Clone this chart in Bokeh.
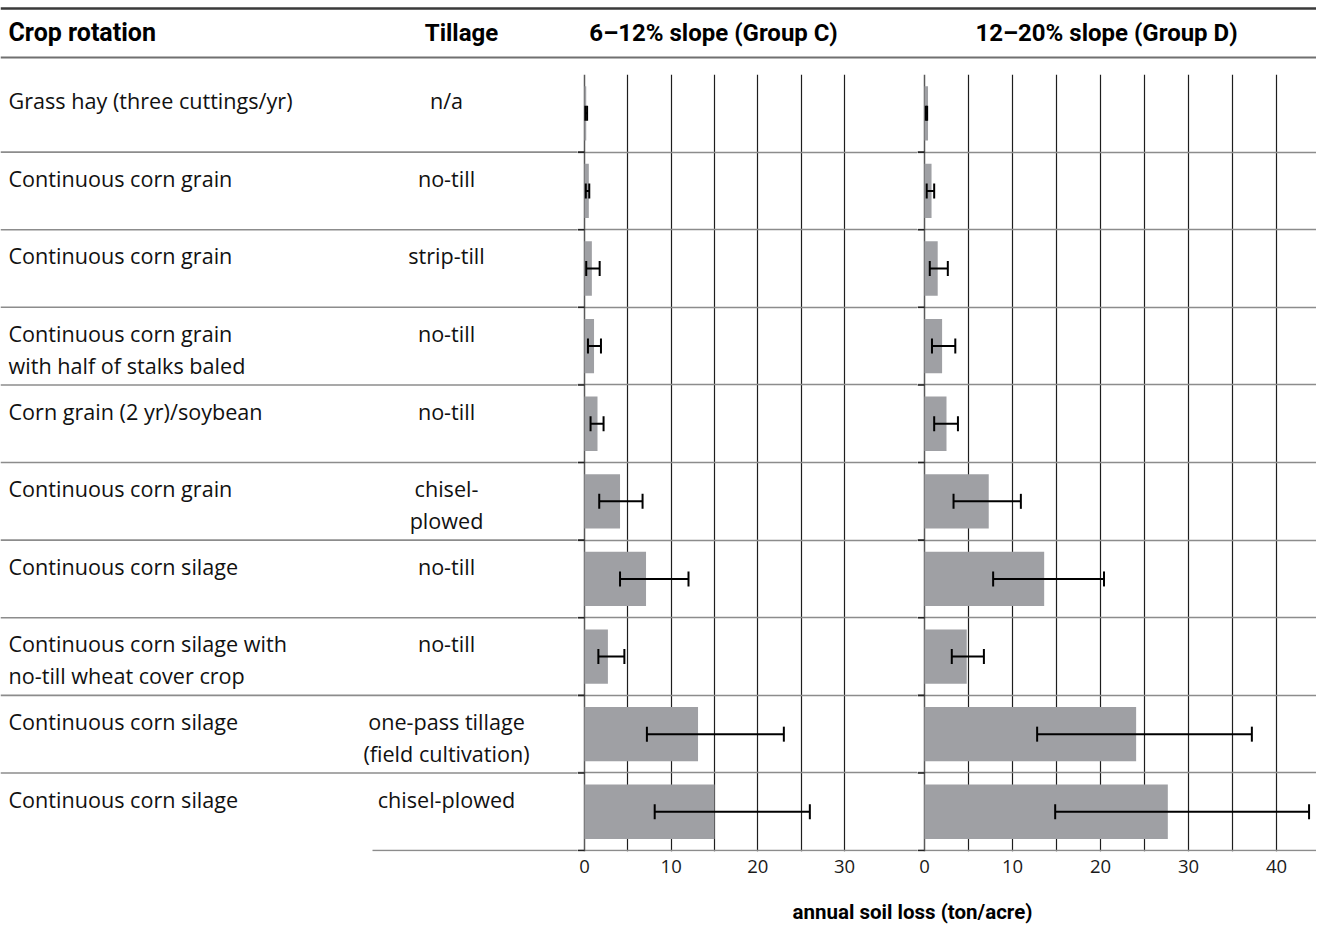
from bokeh.plotting import figure
from bokeh.layouts import column, row
from bokeh.models import Range1d, FixedTicker, Whisker, TeeHead, ColumnDataSource
from bokeh.core.properties import value
from bokeh.embed import file_html
from bokeh.resources import INLINE

# ---------------- data ----------------
crops = [
    "Grass hay (three cuttings/yr)",
    "Continuous corn grain",
    "Continuous corn grain",
    "Continuous corn grain\nwith half of stalks baled",
    "Corn grain (2 yr)/soybean",
    "Continuous corn grain",
    "Continuous corn silage",
    "Continuous corn silage with\nno-till wheat cover crop",
    "Continuous corn silage",
    "Continuous corn silage",
]
tillage = [
    "n/a", "no-till", "strip-till", "no-till", "no-till",
    "chisel-\nplowed", "no-till", "no-till",
    "one-pass tillage\n(field cultivation)", "chisel-plowed",
]
group_c = [0.2, 0.5, 0.85, 1.1, 1.5, 4.1, 7.1, 2.7, 13.1, 15.0]
group_c_lo = [0.1, 0.15, 0.2, 0.4, 0.7, 1.7, 4.1, 1.6, 7.2, 8.1]
group_c_hi = [0.3, 0.55, 1.75, 1.9, 2.2, 6.7, 12.0, 4.6, 23.0, 26.0]
group_d = [0.4, 0.8, 1.5, 2.0, 2.5, 7.3, 13.6, 4.8, 24.05, 27.65]
group_d_lo = [0.15, 0.25, 0.6, 0.85, 1.1, 3.3, 7.8, 3.1, 12.8, 14.85]
group_d_hi = [0.3, 1.1, 2.65, 3.5, 3.8, 10.95, 20.4, 6.75, 37.2, 43.7]
c_ticks = [0, 10, 20, 30]
c_grid = [5, 10, 15, 20, 25, 30]
d_ticks = [0, 10, 20, 30, 40]
d_grid = [5, 10, 15, 20, 25, 30, 35, 40]
headers = ["Crop rotation", "Tillage", "6\u201312% slope (Group C)", "12\u201320% slope (Group D)"]
x_title = "annual soil loss (ton/acre)"

# ---------------- style ----------------
N = len(crops)
HEAD = value("Roboto")
BODY = value("Open Sans")
BAR = "#9fa0a4"
SEP = "#8c8c8c"
GRID = "#1e1e1e"
TOTAL_W = 1316
FRAME_H = 777
AX_H = 30
MID_H = FRAME_H + AX_H
Y_RANGE = (N + 0.012, 0)
TICK_PX = 7

row_centers = [i + 0.5 for i in range(N)]
row_bounds = [i + 1 for i in range(N)]


def base_fig(width, height, xr, yr, bottom=0):
    p = figure(width=width, height=height, x_range=Range1d(*xr), y_range=Range1d(*yr),
               output_backend="svg", toolbar_location=None,
               x_axis_location=None, y_axis_location=None,
               min_border_left=0, min_border_right=0, min_border_top=0,
               min_border_bottom=bottom, outline_line_color=None,
               background_fill_color="white", border_fill_color="white")
    p.xgrid.visible = False
    p.ygrid.visible = False
    return p


# ---------------- header ----------------
HDR_H = 74
hdr = base_fig(TOTAL_W, HDR_H, (0, TOTAL_W), (HDR_H, 0))
hdr.hspan(y=[8], line_color="#3a3a3a", line_width=2.5)
hdr.hspan(y=[57], line_color="#707070", line_width=2)
hdr.text(x=[8], y=[32], text=[headers[0]], text_font=HEAD, text_font_style="bold",
         text_font_size="25px", text_baseline="middle", text_align="left", text_color="black")
hdr.text(x=[461, 713, 1106], y=[32, 32, 32], text=headers[1:], text_font=HEAD,
         text_font_style="bold", text_font_size="24px", text_baseline="middle",
         text_align="center", text_color="black")

# ---------------- labels column ----------------
LAB_W = 577
lab = base_fig(LAB_W, MID_H, (0, LAB_W), Y_RANGE, bottom=AX_H)
lab.segment(x0=0, x1=LAB_W, y0=row_bounds[:-1], y1=row_bounds[:-1], line_color=SEP, line_width=1.6)
lab.segment(x0=[372], x1=[LAB_W], y0=[N], y1=[N], line_color=SEP, line_width=1.6)
tops = [i + 0.15 for i in range(N)]
lab.text(x=8, y=tops, text=crops, text_font=BODY, text_font_size="21.6px",
         text_baseline="top", text_align="left", text_color="#111111", text_line_height=1.09)
lab.text(x=446, y=tops, text=tillage, text_font=BODY, text_font_size="21.6px",
         text_baseline="top", text_align="center", text_color="#111111", text_line_height=1.09)


# ---------------- panels ----------------
def panel(width, px_per_unit, vals, lo, hi, ticks, grid):
    x0 = -TICK_PX / px_per_unit
    x1 = (width - TICK_PX) / px_per_unit
    p = figure(width=width, height=MID_H, x_range=Range1d(x0, x1), y_range=Range1d(*Y_RANGE),
               output_backend="svg", toolbar_location=None,
               x_axis_location="below", y_axis_location=None,
               min_border_left=0, min_border_right=0, min_border_top=0,
               min_border_bottom=AX_H, outline_line_color=None)
    p.ygrid.visible = False
    p.xgrid.ticker = FixedTicker(ticks=grid)
    p.xgrid.grid_line_color = GRID
    p.xgrid.grid_line_width = 1.2
    ax = p.xaxis[0]
    ax.ticker = FixedTicker(ticks=ticks)
    ax.axis_line_color = None
    ax.major_tick_line_color = None
    ax.minor_tick_line_color = None
    ax.major_label_standoff = 2
    ax.major_label_text_font = "Open Sans"
    ax.major_label_text_font_size = "18.5px"
    ax.major_label_text_color = "#1a1a1a"
    # row separators and axis line
    p.hspan(y=row_bounds, line_color=SEP, line_width=1.6)
    p.vspan(x=[0], line_color="#5a5a5a", line_width=1.5)
    p.segment(x0=x0, x1=0, y0=row_bounds, y1=row_bounds, line_color="#222222", line_width=1.6)
    p.hbar(y=row_centers, left=0, right=vals, height=0.70, fill_color=BAR, line_color=None)
    src = ColumnDataSource(dict(y=row_centers, lo=lo, hi=hi))
    w = Whisker(base="y", lower="lo", upper="hi", dimension="width", source=src,
                level="overlay", line_color="black", line_width=2,
                upper_head=TeeHead(size=15, line_color="black", line_width=2),
                lower_head=TeeHead(size=15, line_color="black", line_width=2))
    p.add_layout(w)
    return p


pc = panel(340, 8.667, group_c, group_c_lo, group_c_hi, c_ticks, c_grid)
pd_ = panel(TOTAL_W - LAB_W - 340, 8.8, group_d, group_d_lo, group_d_hi, d_ticks, d_grid)

# ---------------- axis title ----------------
BOT_H = 43
bot = base_fig(TOTAL_W, BOT_H, (0, TOTAL_W), (BOT_H, 0))
bot.text(x=[912], y=[30], text=[x_title], text_font=HEAD, text_font_style="bold",
         text_font_size="20.5px", text_baseline="middle", text_align="center", text_color="black")

layout = column(hdr, row(lab, pc, pd_), bot)
open("out.html", "w").write(file_html(layout, INLINE))
